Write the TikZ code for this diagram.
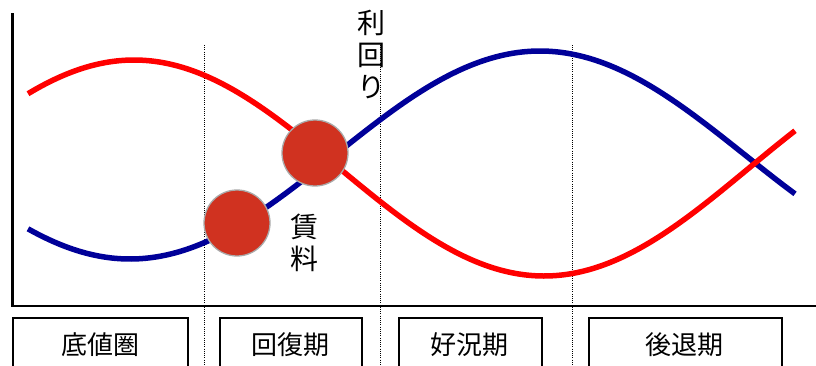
\documentclass[tikz,border=0pt]{standalone}
\usepackage{fontspec}
\setmainfont{Noto Sans CJK JP}
\begin{document}
\begin{tikzpicture}[x=1pt,y=-1pt,
  axis/.style={line width=2.5pt,black},
  divider/.style={line width=1pt,dash pattern=on 1pt off 1.2pt},
  phasebox/.style={draw,line width=1.8pt,minimum height=60pt,anchor=north west,inner sep=0pt},
  phaselabel/.style={font=\fontsize{26}{26}\selectfont},
  curveR/.style={line width=5.5pt,color={rgb,255:red,255;green,0;blue,0}},
  curveB/.style={line width=5.5pt,color={rgb,255:red,0;green,0;blue,153}},
  dot/.style={circle,fill={rgb,255:red,208;green,50;blue,32},draw={rgb,255:red,170;green,170;blue,170},line width=1.3pt,minimum size=66pt,inner sep=0pt},
  vlabel/.style={align=center,font=\fontsize{28}{32}\selectfont,inner sep=0pt}]
\useasboundingbox (0,0) rectangle (816,365);
% phase dividers
\coordinate (d1t) at (204,45); \coordinate (d1b) at (204,365);
\coordinate (d2t) at (380,45); \coordinate (d2b) at (380,365);
\coordinate (d3t) at (572,45); \coordinate (d3b) at (572,365);
\draw[divider] (d1t) -- (d1b);
\draw[divider] (d2t) -- (d2b);
\draw[divider] (d3t) -- (d3b);
% axes
\coordinate (ytop) at (12.5,13);
\coordinate (org) at (12.5,306);
\coordinate (xend) at (816,306);
\draw[axis] (ytop) -- (org) -- (xend);
% curves
\draw[curveB] plot[domain=28:795,samples=120,smooth] (\x,{155+104*cos(0.4390*(\x-130))});
\draw[curveR] plot[domain=28:795,samples=120,smooth] (\x,{168-108*cos(0.4390*(\x-134))});
% circles
\node[dot] (c1) at (237,223) {};
\node[dot] (c2) at (315,153) {};
% labels
\node[vlabel,anchor=north] (yield) at (371,10) {利\\回\\り};
\node[vlabel,anchor=north] (rent) at (304,214) {賃\\料};
% phase boxes
\node[phasebox,minimum width=175pt] (b1) at (12,317) {};
\node[phasebox,minimum width=142pt] (b2) at (219,317) {};
\node[phasebox,minimum width=143pt] (b3) at (398,317) {};
\node[phasebox,minimum width=193pt] (b4) at (588,317) {};
\node[phaselabel] (t1) at (100,345) {底値圏};
\node[phaselabel] (t2) at (290,345) {回復期};
\node[phaselabel] (t3) at (469,345) {好況期};
\node[phaselabel] (t4) at (684,345) {後退期};
\end{tikzpicture}
\end{document}
